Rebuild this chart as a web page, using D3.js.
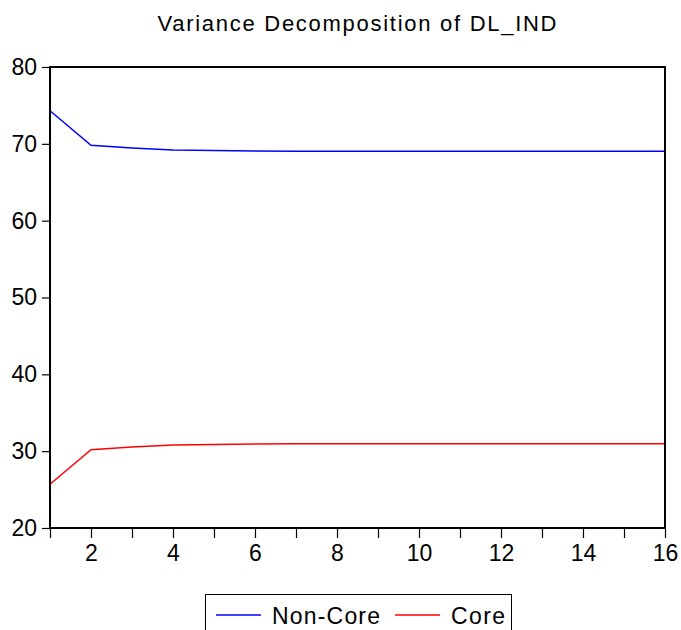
<!DOCTYPE html>
<html>
<head>
<meta charset="utf-8">
<script src="https://cdn.jsdelivr.net/npm/d3@7"></script>
<style>
  body { margin: 0; background: #fff; }
  svg { font-family: Arial, "Liberation Sans", sans-serif; }
</style>
</head>
<body>
<div id="content"></div>
<script>
var periods = [1, 2, 3, 4, 5, 6, 7, 8, 9, 10, 11, 12, 13, 14, 15, 16];
var nonCore = [74.3, 69.8, 69.45, 69.2, 69.12, 69.08, 69.05, 69.05, 69.05, 69.05, 69.05, 69.05, 69.05, 69.05, 69.05, 69.05];
var core = [25.7, 30.2, 30.55, 30.8, 30.88, 30.92, 30.95, 30.95, 30.95, 30.95, 30.95, 30.95, 30.95, 30.95, 30.95, 30.95];
var yTicks = [20, 30, 40, 50, 60, 70, 80];
var xLabels = [2, 4, 6, 8, 10, 12, 14, 16];
var seriesNames = ["Non-Core", "Core"];
var seriesColors = ["#0000ff", "#ff0000"];

var margin = { top: 67, right: 16, bottom: 102, left: 50 },
    width = 681 - margin.left - margin.right,
    height = 630 - margin.top - margin.bottom;

var svg = d3.select("div#content").append("svg")
  .attr("width", 681)
  .attr("height", 630);

svg.append("text")
  .attr("x", 357)
  .attr("y", 31)
  .attr("text-anchor", "middle")
  .attr("font-size", 22)
  .attr("textLength", 399)
  .attr("lengthAdjust", "spacing")
  .text("Variance Decomposition of DL_IND");

var g = svg.append("g")
  .attr("transform", "translate(" + margin.left + "," + margin.top + ")");

var x = d3.scaleLinear().domain([1, 16]).range([0, width]);
var y = d3.scaleLinear().domain([20, 80]).range([height, 0]);

// x axis: a tick for every period, labels on even ones
var xAxis = g.append("g")
  .attr("transform", "translate(0," + height + ")")
  .call(d3.axisBottom(x).tickValues(periods).tickSize(10).tickPadding(7)
    .tickFormat(function(d) { return xLabels.indexOf(d) >= 0 ? d : ""; }));
xAxis.select(".domain").remove();
xAxis.selectAll("line").attr("stroke", "#000").attr("stroke-width", 1.2);
xAxis.selectAll("text").attr("font-size", 23).attr("fill", "#000")
  .attr("font-family", "Arial, 'Liberation Sans', sans-serif");

var yAxis = g.append("g")
  .call(d3.axisLeft(y).tickValues(yTicks).tickSize(8).tickPadding(5));
yAxis.select(".domain").remove();
yAxis.selectAll("line").attr("stroke", "#000").attr("stroke-width", 1.2);
yAxis.selectAll("text").attr("font-size", 23).attr("fill", "#000")
  .attr("font-family", "Arial, 'Liberation Sans', sans-serif");

// lines
var allSeries = [nonCore, core];
var line = d3.line()
  .x(function(d, i) { return x(periods[i]); })
  .y(function(d) { return y(d); });

allSeries.forEach(function(s, k) {
  g.append("path")
    .datum(s)
    .attr("fill", "none")
    .attr("stroke", seriesColors[k])
    .attr("stroke-width", 1.5)
    .attr("d", line);
});

// frame
g.append("rect")
  .attr("x", 0).attr("y", 0)
  .attr("width", width).attr("height", height)
  .attr("fill", "none")
  .attr("stroke", "#000")
  .attr("stroke-width", 2);

// legend
var legend = svg.append("g");
legend.append("rect")
  .attr("x", 205.5).attr("y", 594.5)
  .attr("width", 306).attr("height", 50)
  .attr("fill", "#fff")
  .attr("stroke", "#000")
  .attr("stroke-width", 1);

var legX = [216, 395];
var legW = [108, 54];
seriesNames.forEach(function(name, k) {
  legend.append("line")
    .attr("x1", legX[k]).attr("x2", legX[k] + 45)
    .attr("y1", 615).attr("y2", 615)
    .attr("stroke", seriesColors[k])
    .attr("stroke-width", 1.5);
  legend.append("text")
    .attr("x", legX[k] + 56)
    .attr("y", 624)
    .attr("font-size", 23)
    .attr("textLength", legW[k])
    .attr("lengthAdjust", "spacing")
    .text(name);
});
</script>
</body>
</html>
